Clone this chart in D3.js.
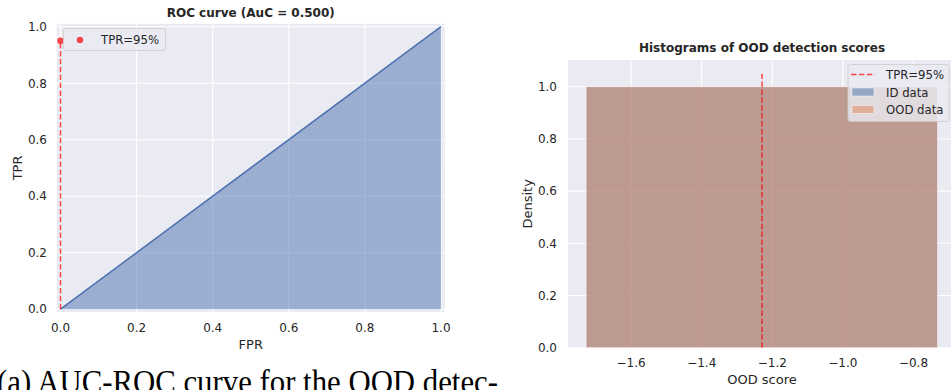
<!DOCTYPE html>
<html>
<head>
<meta charset="utf-8">
<script src="https://cdn.jsdelivr.net/npm/d3@7"></script>
<style>
html,body{margin:0;padding:0;background:#fff;overflow:hidden;}
svg{display:block;}
text{font-family:"DejaVu Sans",sans-serif;fill:#262626;}
</style>
</head>
<body>
<svg id="chart" width="951" height="390"></svg>
<script>
// ---------- data ----------
const rocFPR = [0, 1];
const rocTPR = [0, 1];
const tprPointFPR = [0];
const tprPointTPR = [0.95];
const rocTicks = [0, 0.2, 0.4, 0.6, 0.8, 1.0];
const rocTitle = "ROC curve (AuC = 0.500)";

const histBinStart = [-1.7275];
const histBinEnd = [-0.732];
const idDensity = [1.0];
const oodDensity = [1.0];
const thresholdScore = [-1.229];
const thresholdTop = [1.05];
const histXTicks = [-1.6, -1.4, -1.2, -1.0, -0.8];
const histYTicks = [0, 0.2, 0.4, 0.6, 0.8, 1.0];
const histTitle = "Histograms of OOD detection scores";
const legendLabels = ["TPR=95%", "ID data", "OOD data"];
const captionText = "(a) AUC-ROC curve for the OOD detec-";

// ---------- styles ----------
const BG = "#eaeaf2", BLUE = "#4c72b0", ORANGE = "#dd8452", RED = "#ff0000";
const TICK_FS = 12, LABEL_FS = 13, TITLE_FS = 12, LEG_FS = 11.7;
const svg = d3.select("#chart");
const fmt1 = d3.format(".1f");
const fmtMinus = v => fmt1(v).replace("-", "\u2212");

// ===== Left: ROC =====
const xL = d3.scaleLinear().domain([-0.01, 1.01]).range([56.7, 444.8]);
const yL = d3.scaleLinear().domain([-0.01, 1.01]).range([312, 23.9]);
const gL = svg.append("g");
gL.append("rect").attr("x", xL(-0.01)).attr("y", yL(1.01))
  .attr("width", xL(1.01) - xL(-0.01)).attr("height", yL(-0.01) - yL(1.01)).attr("fill", BG);
gL.selectAll(".vg").data(rocTicks).join("line")
  .attr("x1", d => xL(d)).attr("x2", d => xL(d)).attr("y1", yL(-0.01)).attr("y2", yL(1.01))
  .attr("stroke", "#fff").attr("stroke-width", 1.1);
gL.selectAll(".hg").data(rocTicks).join("line")
  .attr("y1", d => yL(d)).attr("y2", d => yL(d)).attr("x1", xL(-0.01)).attr("x2", xL(1.01))
  .attr("stroke", "#fff").attr("stroke-width", 1.1);
const rocPts = rocFPR.map((f, i) => [f, rocTPR[i]]);
const area = d3.area().x(d => xL(d[0])).y0(yL(0)).y1(d => yL(d[1]));
gL.append("path").datum(rocPts).attr("d", area).attr("fill", BLUE).attr("fill-opacity", 0.5);
gL.append("path").datum(rocPts).attr("d", d3.line().x(d => xL(d[0])).y(d => yL(d[1])))
  .attr("fill", "none").attr("stroke", BLUE).attr("stroke-width", 1.5);
gL.append("line").attr("x1", xL(tprPointFPR[0])).attr("x2", xL(tprPointFPR[0]))
  .attr("y1", yL(0)).attr("y2", yL(tprPointTPR[0]))
  .attr("stroke", RED).attr("stroke-opacity", 0.7).attr("stroke-width", 1.5).attr("stroke-dasharray", "5.5,2.4");
gL.selectAll(".pt").data(tprPointFPR).join("circle")
  .attr("cx", d => xL(d)).attr("cy", (d, i) => yL(tprPointTPR[i])).attr("r", 3.3)
  .attr("fill", RED).attr("fill-opacity", 0.7);
gL.selectAll(".xt").data(rocTicks).join("text")
  .attr("x", d => xL(d)).attr("y", 331.5).attr("text-anchor", "middle").attr("font-size", TICK_FS)
  .text(fmt1);
gL.selectAll(".yt").data(rocTicks).join("text")
  .attr("x", 47).attr("y", d => yL(d) + 4.3).attr("text-anchor", "end").attr("font-size", TICK_FS)
  .text(fmt1);
gL.append("text").attr("x", xL(0.5)).attr("y", 349).attr("text-anchor", "middle").attr("font-size", LABEL_FS).text("FPR");
gL.append("text").attr("transform", `translate(21.5,${yL(0.5)}) rotate(-90)`).attr("text-anchor", "middle")
  .attr("font-size", LABEL_FS).text("TPR");
gL.append("text").attr("x", xL(0.5)).attr("y", 17).attr("text-anchor", "middle").attr("font-size", TITLE_FS)
  .attr("font-weight", "bold").text(rocTitle);
const lgL = gL.append("g");
lgL.append("rect").attr("x", 63.5).attr("y", 28.5).attr("width", 102).attr("height", 22).attr("rx", 2.5)
  .attr("fill", BG).attr("fill-opacity", 0.8).attr("stroke", "#cccccc").attr("stroke-width", 0.8);
lgL.append("circle").attr("cx", 80).attr("cy", 40).attr("r", 3.3).attr("fill", RED).attr("fill-opacity", 0.7);
lgL.append("text").attr("x", 101).attr("y", 44.2).attr("font-size", LEG_FS).text(legendLabels[0]);

// ===== Right: Histogram =====
const xR = d3.scaleLinear().domain([-1.7788, -0.6807]).range([568, 955.6]);
const yR = d3.scaleLinear().domain([0, 1.1025]).range([347.7, 60]);
const gR = svg.append("g");
gR.append("rect").attr("x", xR(-1.7788)).attr("y", yR(1.1025))
  .attr("width", xR(-0.6807) - xR(-1.7788)).attr("height", yR(0) - yR(1.1025)).attr("fill", BG);
gR.selectAll(".vg").data(histXTicks).join("line")
  .attr("x1", d => xR(d)).attr("x2", d => xR(d)).attr("y1", yR(0)).attr("y2", yR(1.1025))
  .attr("stroke", "#fff").attr("stroke-width", 1.1);
gR.selectAll(".hg").data(histYTicks).join("line")
  .attr("y1", d => yR(d)).attr("y2", d => yR(d)).attr("x1", xR(-1.7788)).attr("x2", xR(-0.6807))
  .attr("stroke", "#fff").attr("stroke-width", 1.1);
const bins = histBinStart.map((s, i) => ({s, e: histBinEnd[i], id: idDensity[i], ood: oodDensity[i]}));
gR.selectAll(".idb").data(bins).join("rect")
  .attr("x", d => xR(d.s)).attr("width", d => xR(d.e) - xR(d.s))
  .attr("y", d => yR(d.id)).attr("height", d => yR(0) - yR(d.id))
  .attr("fill", BLUE).attr("fill-opacity", 0.5).attr("stroke", "#fff").attr("stroke-opacity", 0.5).attr("stroke-width", 0.8);
gR.selectAll(".oodb").data(bins).join("rect")
  .attr("x", d => xR(d.s)).attr("width", d => xR(d.e) - xR(d.s))
  .attr("y", d => yR(d.ood)).attr("height", d => yR(0) - yR(d.ood))
  .attr("fill", ORANGE).attr("fill-opacity", 0.5).attr("stroke", "#fff").attr("stroke-opacity", 0.5).attr("stroke-width", 0.8);
gR.selectAll(".thr").data(thresholdScore).join("line")
  .attr("x1", d => xR(d)).attr("x2", d => xR(d)).attr("y1", yR(0)).attr("y2", (d, i) => yR(thresholdTop[i]))
  .attr("stroke", RED).attr("stroke-opacity", 0.7).attr("stroke-width", 1.5).attr("stroke-dasharray", "5.5,2.4");
gR.selectAll(".xt").data(histXTicks).join("text")
  .attr("x", d => xR(d)).attr("y", 366.5).attr("text-anchor", "middle").attr("font-size", TICK_FS)
  .text(fmtMinus);
gR.selectAll(".yt").data(histYTicks).join("text")
  .attr("x", 557).attr("y", d => yR(d) + 4.3).attr("text-anchor", "end").attr("font-size", TICK_FS)
  .text(fmt1);
gR.append("text").attr("x", 762).attr("y", 384).attr("text-anchor", "middle").attr("font-size", LABEL_FS).text("OOD score");
gR.append("text").attr("transform", `translate(532,${(yR(0) + yR(1.1025)) / 2}) rotate(-90)`).attr("text-anchor", "middle")
  .attr("font-size", LABEL_FS).text("Density");
gR.append("text").attr("x", 762).attr("y", 52).attr("text-anchor", "middle").attr("font-size", TITLE_FS)
  .attr("font-weight", "bold").text(histTitle);
const lgR = gR.append("g");
lgR.append("rect").attr("x", 848).attr("y", 64.5).attr("width", 101).attr("height", 57).attr("rx", 2.5)
  .attr("fill", BG).attr("fill-opacity", 0.8).attr("stroke", "#cccccc").attr("stroke-width", 0.8);
lgR.append("line").attr("x1", 851).attr("x2", 875).attr("y1", 74.5).attr("y2", 74.5)
  .attr("stroke", RED).attr("stroke-opacity", 0.7).attr("stroke-width", 1.5).attr("stroke-dasharray", "5.5,2.4");
lgR.append("rect").attr("x", 852).attr("y", 88).attr("width", 22).attr("height", 8)
  .attr("fill", BLUE).attr("fill-opacity", 0.5).attr("stroke", "#fff").attr("stroke-opacity", 0.5);
lgR.append("rect").attr("x", 852).attr("y", 105.5).attr("width", 22).attr("height", 8)
  .attr("fill", ORANGE).attr("fill-opacity", 0.5).attr("stroke", "#fff").attr("stroke-opacity", 0.5);
lgR.selectAll(".lt").data(legendLabels).join("text")
  .attr("x", 886).attr("y", (d, i) => 79 + i * 17.5).attr("font-size", LEG_FS).text(d => d);

// ===== Caption =====
svg.append("text").attr("x", -3).attr("y", 393)
  .style("font-family", "'Liberation Serif', serif").style("fill", "#000")
  .attr("font-size", 33).attr("textLength", 501).attr("lengthAdjust", "spacingAndGlyphs")
  .text(captionText);
</script>
</body>
</html>
